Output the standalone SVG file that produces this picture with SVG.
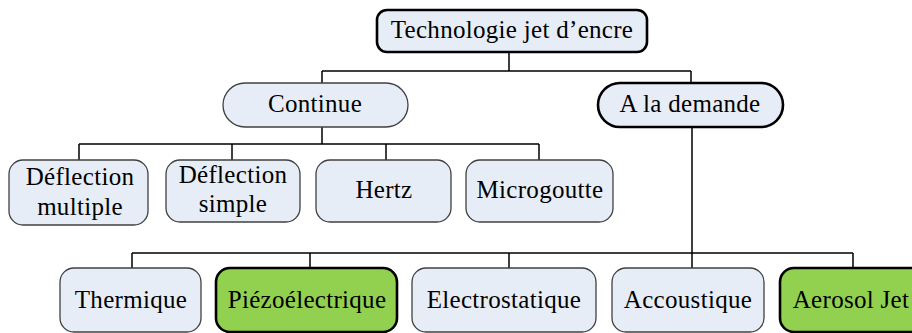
<svg xmlns="http://www.w3.org/2000/svg" width="912" height="333" viewBox="0 0 912 333">
<style>
.n{fill:#E7EDF7;stroke:#404040;stroke-width:1.3}
.k{fill:#E7EDF7;stroke:#000;stroke-width:2.6}
.g{fill:#92D050;stroke:#000;stroke-width:2.6}
.t{font-family:'Liberation Serif','Times New Roman',serif;font-size:25px;letter-spacing:0.3px;fill:#000;text-anchor:middle}
.c{fill:none;stroke:#000;stroke-width:1.5}
</style>
<rect width="912" height="333" fill="#fff"/>
<g id="connectors">
<path class="c" d="M509 53V71M322 71H691M322 71V83M691 71V83"/>
<path class="c" d="M322 127V144M79 144H539M79 144V160M232 144V160M386 144V160M539 144V160"/>
<path class="c" d="M692 127V268M132 253H853M132 253V268M310 253V268M509 253V268M853 253V268"/>
</g>
<g id="n_root"><rect class="k" x="377" y="10" width="270" height="42" rx="10"/><text class="t" x="512" y="38">Technologie jet d’encre</text></g>
<g id="n_continue"><rect class="n" x="223" y="83" width="185" height="44" rx="22"/><text class="t" x="315" y="112">Continue</text></g>
<g id="n_demande"><rect class="k" x="598" y="83" width="185" height="44" rx="22"/><text class="t" x="690" y="112">A la demande</text></g>
<g id="n_defmult"><rect class="n" x="9" y="160" width="139" height="65" rx="14"/><text class="t" x="80" y="185">Déflection</text><text class="t" x="80" y="215">multiple</text></g>
<g id="n_defsimp"><rect class="n" x="166" y="160" width="134" height="62" rx="14"/><text class="t" x="233" y="183">Déflection</text><text class="t" x="233" y="212">simple</text></g>
<g id="n_hertz"><rect class="n" x="316" y="160" width="135" height="62" rx="14"/><text class="t" x="384" y="198">Hertz</text></g>
<g id="n_micro"><rect class="n" x="466" y="160" width="147" height="62" rx="14"/><text class="t" x="540" y="198">Microgoutte</text></g>
<g id="n_therm"><rect class="n" x="60" y="268" width="141" height="64" rx="14"/><text class="t" x="131" y="308">Thermique</text></g>
<g id="n_piezo"><rect class="g" x="216" y="268" width="181" height="64" rx="14"/><text class="t" x="307" y="308">Piézoélectrique</text></g>
<g id="n_electro"><rect class="n" x="412" y="268" width="184" height="64" rx="14"/><text class="t" x="504" y="308">Electrostatique</text></g>
<g id="n_acc"><rect class="n" x="612" y="268" width="152" height="64" rx="14"/><text class="t" x="688" y="308">Accoustique</text></g>
<g id="n_aero"><rect class="g" x="780" y="268" width="146" height="64" rx="14"/><text class="t" x="851" y="308">Aerosol Jet</text></g>
</svg>
